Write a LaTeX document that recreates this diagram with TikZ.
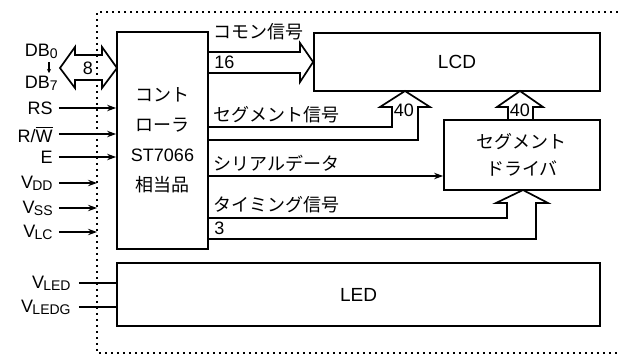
\documentclass[tikz,border=0pt]{standalone}
\usepackage{fontspec}
\setmainfont{Liberation Sans}
\newfontfamily\jp{Noto Sans CJK JP}
\usetikzlibrary{arrows.meta,positioning,calc}
\tikzset{
  ubox/.style={draw,line width=0.85pt,inner sep=0pt,align=center},
  uwide/.style={line width=0.85pt,line join=miter},
  uarr/.style={-{Stealth[length=4.5pt,width=3.2pt]},line width=0.7pt},
  uline/.style={line width=0.7pt},
  ulab/.style={inner sep=1pt},
  uframe/.style={line width=0.9pt,dash pattern=on 0.9pt off 2.1pt}
}
\newcommand{\vsub}[1]{V\kern-0.04em\raisebox{-0.2ex}{\scriptsize #1}}

\begin{document}
\begin{tikzpicture}[x=0.5pt,y=-0.5pt,font=\fontsize{9}{11}\selectfont]
  \useasboundingbox (0,0) rectangle (618,354);
  % dotted module outline
  \coordinate (fr) at (97,12);
  \draw[uframe] (618,12) -- (fr) -- (97,353) -- (618,353);
  % blocks
  \node[ubox,minimum width=45.5pt,minimum height=108.5pt,font=\fontsize{9}{15}\selectfont] (ctrl) at (162.5,140.5)
     {{\jp コント}\\{\jp ローラ}\\ST7066\\{\jp 相当品}};
  \node[ubox,minimum width=143pt,minimum height=29pt,font=\fontsize{9.5}{11}\selectfont] (lcd) at (457,62) {LCD};
  \node[ubox,minimum width=78pt,minimum height=35pt,font=\fontsize{9}{13.5}\selectfont] (drv) at (522,155)
     {{\jp セグメント}\\{\jp ドライバ}};
  \node[ubox,minimum width=241.5pt,minimum height=31.5pt,font=\fontsize{9.5}{11}\selectfont] (led) at (358.5,294.5) {LED};
  % wide buses
  \draw[uwide] (208,52) -- (300,52) -- (300,43) -- (lcd.west) -- (300,82) -- (300,73) -- (208,73);
  \draw[uwide] (208,127) -- (392,127) -- (392,107) -- (380,107) -- (405,91) -- (430,107) -- (418,107) -- (418,140) -- (208,140);
  \draw[uwide] (508,120) -- (508,107) -- (497,107) -- (520,91) -- (543,107) -- (533,107) -- (533,120);
  \draw[uwide] (208,218) -- (507,218) -- (507,203) -- (496,203) -- (523,190) -- (548,203) -- (536,203) -- (536,239) -- (208,239);
  \draw[uwide] (60,68) -- (75,47) -- (75,55) -- (102,55) -- (102,47) -- (117,68) -- (102,88) -- (102,80) -- (75,80) -- (75,88) -- cycle;
  % bus labels
  \node[ulab,anchor=west] (com) at (211,32) {\jp コモン信号};
  \node[ulab,anchor=west] (n16) at (212,62) {16};
  \node[ulab,anchor=west] (seg) at (211,115) {\jp セグメント信号};
  \node[ulab] (n40a) at (404,110) {40};
  \node[ulab] (n40b) at (520,110) {40};
  \node[ulab,anchor=west] (ser) at (211,163) {\jp シリアルデータ};
  \node[ulab,anchor=west] (tim) at (211,205) {\jp タイミング信号};
  \node[ulab,anchor=west] (n3) at (212,228) {3};
  \node[ulab] (n8) at (88,68) {8};
  % serial data
  \coordinate (sd) at (208,176);
  \draw[uarr] (sd) -- (sd -| drv.west);
  % inputs
  \node[ulab,anchor=east] (db0) at (60,51) {DB\raisebox{-0.2ex}{\scriptsize 0}};
  \node[ulab,anchor=east] (db7) at (60,83) {DB\raisebox{-0.2ex}{\scriptsize 7}};
  \draw[-{Stealth[length=2pt,width=2pt]},line width=0.6pt] (49,62) -- (49,73);
  \node[ulab,anchor=east] (rs) at (55,108) {RS};
  \node[ulab,anchor=east] (rw) at (55,134) {R/$\overline{\hbox{W}}$};
  \node[ulab,anchor=east] (en) at (55,157) {E};
  \foreach \s in {rs,rw,en}{\draw[uarr,shorten <=2pt] (\s) -- (\s -| ctrl.west);}
  \node[ulab,anchor=east] (vdd) at (55,183) {\vsub{DD}};
  \node[ulab,anchor=east] (vss) at (55,208) {\vsub{SS}};
  \node[ulab,anchor=east] (vlc) at (55,232) {\vsub{LC}};
  \foreach \s in {vdd,vss,vlc}{\draw[uarr,shorten <=2pt] (\s) -- (\s -| fr);}
  \node[ulab,anchor=east] (vled) at (73,283) {\vsub{LED}};
  \node[ulab,anchor=east] (vledg) at (73,307) {\vsub{LEDG}};
  \foreach \s in {vled,vledg}{\draw[uline,shorten <=3pt] (\s) -- (\s -| led.west);}
\end{tikzpicture}
\end{document}
